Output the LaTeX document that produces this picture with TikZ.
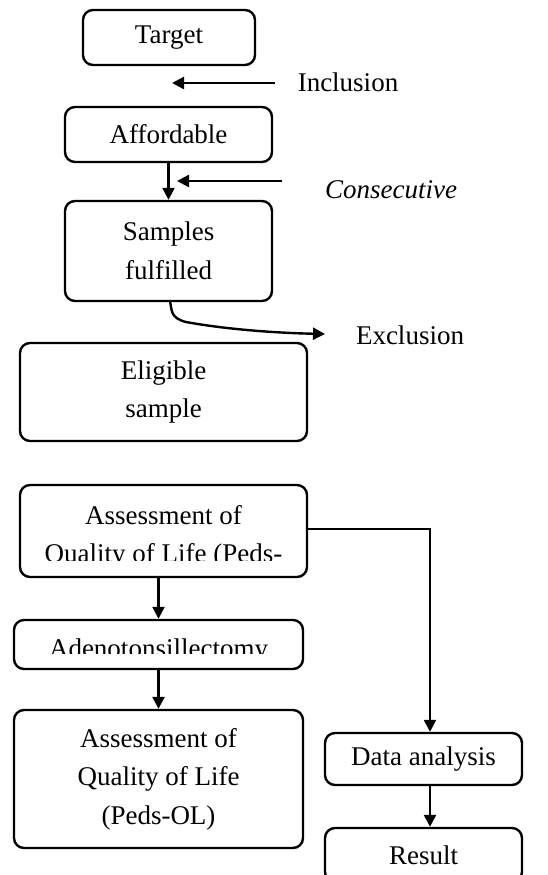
\documentclass[tikz,border=0pt]{standalone}
\usepackage{fontspec}
\setmainfont{Liberation Serif}
\usetikzlibrary{arrows.meta}
\begin{document}
\begin{tikzpicture}[x=1pt,y=-1pt,
  box/.style={draw, line width=2.4pt, rounded corners=10pt, inner sep=0pt, align=center, font=\fontsize{27}{38.5}\selectfont},
  lbl/.style={font=\fontsize{27}{38.5}\selectfont, inner sep=0pt, align=center},
  arr/.style={line width=2.4pt, -{Triangle[length=12pt,width=12pt]}},
  ln/.style={line width=2.4pt}]
\useasboundingbox (0,0) rectangle (547,875);
% boxes
\node[box, minimum width=172pt, minimum height=55pt] (target) at (169,37.5) {Target};
\node[box, minimum width=207pt, minimum height=55pt] (afford) at (168.5,134.5) {Affordable};
\node[box, minimum width=207pt, minimum height=100pt] (samples) at (168.5,251) {Samples\\fulfilled};
\node[box, minimum width=287pt, minimum height=98pt] (elig) at (163.5,392) {Eligible\\sample};
\node[box, minimum width=287pt, minimum height=92pt] (assA) at (163.5,531) {};
\begin{scope}
\clip (22,487) rectangle (305,560);
\node[lbl] (assAtext) at (163.5,537) {Assessment of\\Quality of Life (Peds-};
\end{scope}
\node[box, minimum width=289pt, minimum height=49pt] (adeno) at (158.5,644.5) {};
\begin{scope}
\clip (16,622) rectangle (301,653);
\node[lbl, anchor=base] (adenotext) at (158.5,657) {Adenotonsillectomy};
\end{scope}
\node[box, minimum width=289pt, minimum height=138pt] (assB) at (158.5,779) {Assessment of\\Quality of Life\\(Peds-OL)};
\node[box, minimum width=197pt, minimum height=52pt] (data) at (423.5,759) {Data analysis};
\node[box, minimum width=197pt, minimum height=54pt] (result) at (423.5,855) {Result};
% side labels
\node[lbl, anchor=base] (incl) at (348,91) {Inclusion};
\node[lbl, anchor=base] (consec) at (391,198) {\itshape Consecutive};
\node[lbl, anchor=base] (excl) at (410,344) {Exclusion};
\coordinate (incS) at (275,83);
\coordinate (incE) at (172,83);
\coordinate (conS) at (282,181);
\coordinate (conE) at (177,181);
\coordinate (excS) at (170,301);
\coordinate (excE) at (325,334);
% connectors
\draw[arr] (incS) -- (incE);
\draw[arr] (conS) -- (conE);
\draw[arr] (afford.south) -- (samples.north);
\draw[arr] (excS) .. controls (172,310) and (170,318) .. (186,322) .. controls (230,330) and (280,333) .. (excE);
\draw[arr] (assA.south -| adeno.north) -- (adeno.north);
\draw[arr] (adeno.south) -- (assB.north);
\draw[arr] ([yshift=2pt]assA.east) -| ([xshift=6.5pt]data.north);
\draw[arr] ([xshift=6.5pt]data.south) -- ([xshift=6.5pt]result.north);
\end{tikzpicture}
\end{document}
